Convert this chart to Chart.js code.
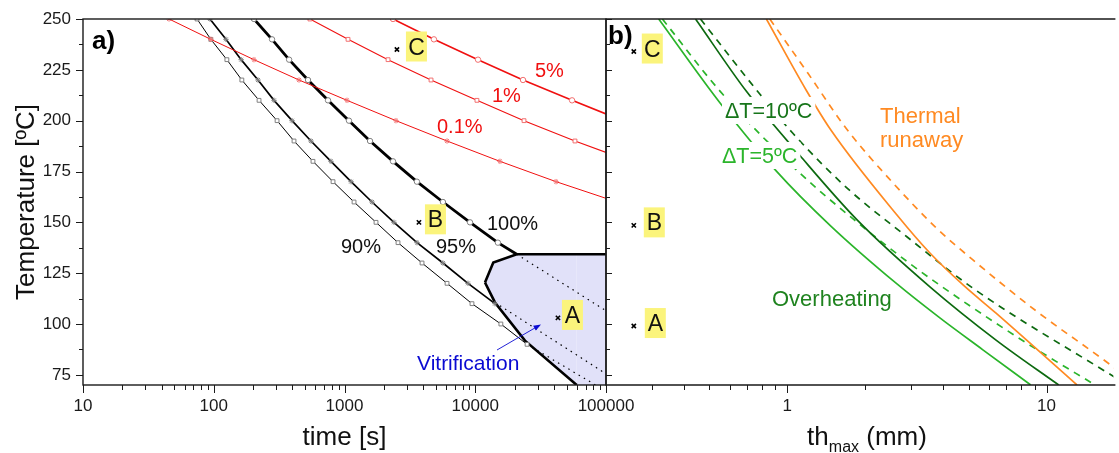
<!DOCTYPE html>
<html>
<head>
<meta charset="utf-8">
<title>Cure time and maximum thickness</title>
<script src="https://cdn.jsdelivr.net/npm/chart.js@4.4.1/dist/chart.umd.min.js"></script>
<style>
  html, body { margin: 0; padding: 0; background: #fff; overflow: hidden; }
  #chartA { position: absolute; left: 0; top: 0; }
  #chartB { position: absolute; left: 600px; top: 0; }
</style>
</head>
<body>
<canvas id="chartA" width="650" height="453"></canvas>
<canvas id="chartB" width="519" height="453"></canvas>
<script>
// ---------- panel a) : time [s] to reach a given conversion ----------
var temp90 = [250, 240, 230, 220, 210, 200, 190, 180, 170, 160, 150, 140, 130, 120, 110, 100, 90];
var time90 = [74.5, 95, 126, 164, 222, 305, 411, 574, 817, 1183, 1742, 2566, 3917, 6085, 9440, 15700, 24900];
var temp95 = [250, 240, 230, 220, 210, 200, 190, 180, 170, 160, 150, 140, 130, 120, 110];
var time95 = [93.5, 124, 162, 218, 289, 397, 554, 788, 1122, 1623, 2390, 3585, 5660, 8800, 14150];
var temp100 = [250, 240, 230, 220, 210, 200, 190, 180, 170, 160, 150, 140, 134.3];
var time100 = [203, 279, 377, 526, 748, 1082, 1568, 2350, 3580, 5660, 9120, 14900, 20750];

// degradation curves
var temp01 = [250, 240, 230, 220, 210, 200, 190, 180, 170, 161.8];
var time01 = [45.5, 95, 203, 449, 1045, 2476, 6085, 15450, 41500, 100000];
var temp1 = [250, 240, 230, 220, 210, 200, 190, 184.4];
var time1 = [544, 1064, 2153, 4590, 10300, 23600, 57900, 100000];
var temp5 = [250, 240, 230, 220, 210, 203.3];
var time5 = [2350, 4830, 10500, 23200, 55000, 100000];

// continuation of the curves inside the vitrified zone
var dot100Time = [20750, 100000], dot100Temp = [134.3, 106.5];
var dot95Time = [14150, 100000], dot95Temp = [110.6, 75.5];
var dot90Time = [24900, 83200], dot90Temp = [90, 70];

// vitrification region: upper and lower outline
var vitUpTime = [11870, 13740, 20750, 100000];
var vitUpTemp = [120.4, 130.2, 134.3, 134.3];
var vitLowTime = [11870, 14150, 24000, 59700, 100000];
var vitLowTemp = [120.4, 110.6, 91.8, 70, 70];

// cure conditions A, B, C
var sampleNames = ['A', 'B', 'C'];
var sampleTime = [42900, 3710, 2518];
var sampleTempA = [103, 150, 235];
var sampleThick = [0.256, 0.256, 0.256];
var sampleTempB = [99, 148.5, 234];

// ---------- panel b) : maximum thickness [mm] ----------
var thG5 = [0.3194, 0.547, 0.908, 1.469, 2.649, 3.877, 5.68, 8.687];
var tG5 = [250, 209.2, 175.2, 148.3, 119.7, 103.0, 87.3, 70];
var thG5d = [0.330, 0.5515, 1.099, 1.863, 2.978, 4.764, 9.08, 15.39];
var tG5d = [250, 214.4, 175.1, 150.0, 129.6, 111.2, 87.8, 70];
var thG10 = [0.443, 0.697, 1.115, 1.863, 3.549, 6.385, 11.14];
var tG10 = [250, 214.3, 183.1, 151.1, 118.3, 92.1, 70];
var thG10d = [0.4627, 0.761, 1.051, 1.706, 2.892, 5.201, 17.3, 20];
var tG10d = [250, 215.1, 193.8, 166.7, 142.9, 117.6, 75.8, 70.9];
var thRun = [0.831, 1.182, 1.473, 2.649, 3.549, 4.764, 6.385, 13.1];
var tRun = [250, 215.1, 195.4, 153.6, 134.9, 119.2, 105.3, 70];
var thRund = [0.8565, 1.2, 1.706, 2.535, 3.71, 5.201, 9.078, 17.3, 20];
var tRund = [250, 223.4, 195.4, 169.9, 147.9, 131.5, 106.6, 80.7, 74.5];

// axis ticks
var yMajor = [75, 100, 125, 150, 175, 200, 225, 250];
var yMinor = [87.5, 112.5, 137.5, 162.5, 187.5, 212.5, 237.5];
var timeMajor = [10, 100, 1000, 10000, 100000];
var thickMajor = [1, 10];

var fontFamily = '"Liberation Sans", Arial, sans-serif';
var axisColor = '#1a1a1a';
Chart.defaults.font.family = fontFamily;
Chart.defaults.color = axisColor;

function pts(xs, ys) {
  return xs.map(function (x, i) { return { x: x, y: ys[i] }; });
}

function minorLog(lo, hi) {
  var out = [];
  for (var d = lo; d < hi; d *= 10) {
    for (var m = 2; m <= 9; m++) out.push(d * m);
  }
  return out;
}

// markers only on the 10 ºC steps
function stepRadius(c) {
  return c.raw && c.raw.y % 10 === 0 ? 2.7 : 0;
}

function curve(xs, ys, color, width, marker, markColor) {
  return {
    data: pts(xs, ys),
    borderColor: color,
    borderWidth: width,
    pointStyle: marker,
    pointRadius: stepRadius,
    pointBorderColor: markColor,
    pointBackgroundColor: '#fff',
    pointBorderWidth: 1,
    tension: 0,
    fill: false
  };
}

function dotted(xs, ys) {
  return { data: pts(xs, ys), borderColor: '#000', borderWidth: 1.2, borderDash: [1.5, 4.5], pointRadius: 0, fill: false };
}

function smooth(xs, ys, color, dash) {
  return {
    data: pts(xs, ys), borderColor: color, borderWidth: 1.7, borderDash: dash || [],
    pointRadius: 0, cubicInterpolationMode: 'monotone', fill: false
  };
}

function crosses(xs, ys) {
  return {
    data: pts(xs, ys), showLine: false, pointStyle: 'crossRot', pointRadius: 3,
    pointBorderColor: '#000', pointBorderWidth: 1.6
  };
}

function drawTicks(ctx, scale, values, edge, len, vertical, lo, hi) {
  values.forEach(function (v) {
    var p = Math.round(scale.getPixelForValue(v)) + 0.5;
    if (p < lo - 1 || p > hi + 1) return;
    if (vertical) { ctx.moveTo(edge, p); ctx.lineTo(edge + len, p); }
    else { ctx.moveTo(p, edge); ctx.lineTo(p, edge + len); }
  });
}

function text(ctx, t, shift) {
  ctx.font = (t.bold ? 'bold ' : '') + t.size + 'px ' + fontFamily;
  ctx.textAlign = 'left';
  ctx.textBaseline = 'alphabetic';
  var x = t.x - shift;
  if (t.bg) {
    var w = ctx.measureText(t.text).width;
    ctx.fillStyle = t.bg;
    ctx.fillRect(x - 3, t.y - t.size * 0.98, w + 6, t.size * 1.26);
  }
  ctx.fillStyle = t.color;
  ctx.fillText(t.text, x, t.y);
}

function sampleBoxes(ctx, sx, sy, xs, ys, offsets) {
  ctx.font = '23px ' + fontFamily;
  ctx.textAlign = 'center';
  ctx.textBaseline = 'alphabetic';
  sampleNames.forEach(function (n, i) {
    var px = sx.getPixelForValue(xs[i]) + offsets[i];
    var py = sy.getPixelForValue(ys[i]);
    ctx.fillStyle = '#fbf47c';
    ctx.fillRect(px, py - 18, 21, 30);
    ctx.fillStyle = '#111';
    ctx.fillText(n, px + 10.5, py + 5);
  });
}

var textsA = [
  { text: 'a)', x: 92, y: 49, size: 26, bold: true, color: '#000' },
  { text: '5%', x: 535, y: 77, size: 20, color: '#f01010' },
  { text: '1%', x: 492, y: 102, size: 20, color: '#f01010' },
  { text: '0.1%', x: 437, y: 133, size: 20, color: '#f01010' },
  { text: '100%', x: 487, y: 230, size: 20, color: '#111' },
  { text: '95%', x: 436, y: 253, size: 20, color: '#111' },
  { text: '90%', x: 341, y: 253, size: 20, color: '#111' },
  { text: 'Vitrification', x: 417, y: 370, size: 21, color: '#0a0ad2' }
];

var textsB = [
  { text: 'b)', x: 608, y: 44, size: 26, bold: true, color: '#000' },
  { text: '\u0394T=10\u00baC', x: 725, y: 118, size: 21.5, color: '#17751a', bg: '#fff' },
  { text: '\u0394T=5\u00baC', x: 722, y: 163, size: 21.5, color: '#2bb52b', bg: '#fff' },
  { text: 'Thermal', x: 880, y: 123, size: 22, color: '#ff8a22' },
  { text: 'runaway', x: 880, y: 147, size: 22, color: '#ff8a22' },
  { text: 'Overheating', x: 772, y: 306, size: 22, color: '#1f831f' }
];

var decoA = {
  id: 'decoA',
  afterDatasetsDraw: function (chart) {
    var ctx = chart.ctx, a = chart.chartArea, sx = chart.scales.x, sy = chart.scales.y;
    ctx.save();
    ctx.strokeStyle = axisColor;
    ctx.lineWidth = 1.4;
    ctx.strokeRect(a.left, a.top, a.right - a.left, a.bottom - a.top);
    ctx.lineWidth = 1;
    ctx.beginPath();
    drawTicks(ctx, sy, yMajor, a.left, -7, true, a.top, a.bottom);
    drawTicks(ctx, sy, yMinor, a.left, -4, true, a.top, a.bottom);
    drawTicks(ctx, sx, timeMajor, a.bottom, 8, false, a.left, a.right);
    drawTicks(ctx, sx, minorLog(10, 100000), a.bottom, 5, false, a.left, a.right);
    ctx.stroke();

    sampleBoxes(ctx, sx, sy, sampleTime, sampleTempA, [4, 6, 9]);
    textsA.forEach(function (t) { text(ctx, t, 0); });

    // arrow pointing into the vitrified zone
    ctx.strokeStyle = '#0a0ad2';
    ctx.fillStyle = '#0a0ad2';
    ctx.lineWidth = 0.9;
    ctx.beginPath();
    ctx.moveTo(497, 350);
    ctx.lineTo(536, 327.3);
    ctx.stroke();
    var ang = Math.atan2(325 - 350, 540 - 497);
    ctx.beginPath();
    ctx.moveTo(541, 324.4);
    ctx.lineTo(541 - 8 * Math.cos(ang - 0.35), 324.4 - 8 * Math.sin(ang - 0.35));
    ctx.lineTo(541 - 8 * Math.cos(ang + 0.35), 324.4 - 8 * Math.sin(ang + 0.35));
    ctx.closePath();
    ctx.fill();

    // axis titles
    ctx.fillStyle = '#111';
    ctx.font = '26px ' + fontFamily;
    ctx.textAlign = 'center';
    ctx.textBaseline = 'alphabetic';
    ctx.fillText('time [s]', (a.left + a.right) / 2, 445);
    ctx.translate(34, (a.top + a.bottom) / 2);
    ctx.rotate(-Math.PI / 2);
    ctx.fillText('Temperature [\u00baC]', 0, 0);
    ctx.restore();
  }
};

var decoB = {
  id: 'decoB',
  afterDatasetsDraw: function (chart) {
    var ctx = chart.ctx, a = chart.chartArea, sx = chart.scales.x, sy = chart.scales.y;
    ctx.save();
    ctx.strokeStyle = axisColor;
    ctx.lineWidth = 1.4;
    ctx.beginPath();
    ctx.moveTo(a.right + 2, a.top);
    ctx.lineTo(a.left, a.top);
    ctx.lineTo(a.left, a.bottom);
    ctx.lineTo(a.right + 2, a.bottom);
    ctx.stroke();
    ctx.lineWidth = 1;
    ctx.beginPath();
    drawTicks(ctx, sy, yMajor, a.left, 6, true, a.top, a.bottom);
    drawTicks(ctx, sy, yMinor, a.left, 4, true, a.top, a.bottom);
    drawTicks(ctx, sx, thickMajor, a.bottom, 8, false, a.left, a.right);
    drawTicks(ctx, sx, minorLog(0.1, 100), a.bottom, 5, false, a.left, a.right);
    ctx.stroke();

    sampleBoxes(ctx, sx, sy, sampleThick, sampleTempB, [11, 10, 8]);
    textsB.forEach(function (t) { text(ctx, t, 600); });

    // x title with subscript: th_max (mm)
    ctx.fillStyle = '#111';
    ctx.textAlign = 'left';
    ctx.textBaseline = 'alphabetic';
    ctx.font = '26px ' + fontFamily;
    var w1 = ctx.measureText('th').width, w3 = ctx.measureText(' (mm)').width;
    ctx.font = '16px ' + fontFamily;
    var w2 = ctx.measureText('max').width;
    var x0 = 867 - 600 - (w1 + w2 + w3) / 2;
    ctx.font = '26px ' + fontFamily;
    ctx.fillText('th', x0, 445);
    ctx.fillText(' (mm)', x0 + w1 + w2, 445);
    ctx.font = '16px ' + fontFamily;
    ctx.fillText('max', x0 + w1, 452);
    ctx.restore();
  }
};

var tickFont = { family: fontFamily, size: 17 };

var chartA = new Chart(document.getElementById('chartA'), {
  type: 'line',
  data: {
    datasets: [
      crosses(sampleTime, sampleTempA),
      curve(time5, temp5, '#f01010', 1.6, 'circle', '#f27070'),
      curve(time1, temp1, '#f01010', 1.1, 'rect', '#f27070'),
      curve(time01, temp01, '#f01010', 1.0, 'star', '#f27070'),
      curve(time100, temp100, '#000', 2.8, 'circle', '#808080'),
      curve(time95, temp95, '#000', 1.7, 'star', '#808080'),
      curve(time90, temp90, '#000', 1.0, 'rect', '#808080'),
      dotted(dot100Time, dot100Temp),
      dotted(dot95Time, dot95Temp),
      dotted(dot90Time, dot90Temp),
      {
        data: pts(vitUpTime, vitUpTemp),
        borderColor: '#000',
        borderWidth: 2.6,
        backgroundColor: '#e1e1f9',
        fill: '+1',
        pointRadius: 0,
        tension: 0
      },
      {
        data: pts(vitLowTime, vitLowTemp),
        borderColor: '#000',
        borderWidth: 2.6,
        fill: false,
        pointRadius: 0,
        tension: 0,
        segment: {
          borderColor: function (c) { return c.p0DataIndex === 3 ? 'rgba(0,0,0,0)' : undefined; }
        }
      }
    ]
  },
  options: {
    responsive: false,
    animation: false,
    events: [],
    layout: { padding: { left: 0, top: 19, right: 44, bottom: 0 } },
    plugins: {
      legend: { display: false },
      tooltip: { enabled: false },
      filler: { drawTime: 'beforeDatasetsDraw' }
    },
    scales: {
      x: {
        type: 'logarithmic', min: 10, max: 100000,
        grid: { display: false, drawTicks: false }, border: { display: false },
        afterBuildTicks: function (s) { s.ticks = timeMajor.map(function (v) { return { value: v }; }); },
        afterFit: function (s) { s.height = 68; s.paddingLeft = 0; s.paddingRight = 0; },
        ticks: { font: tickFont, color: '#1a1a1a', padding: 11, maxRotation: 0, autoSkip: false,
                 callback: function (v) { return String(v); } }
      },
      y: {
        type: 'linear', min: 70, max: 250,
        grid: { display: false, drawTicks: false }, border: { display: false },
        afterBuildTicks: function (s) { s.ticks = yMajor.map(function (v) { return { value: v }; }); },
        afterFit: function (s) { s.width = 83; s.paddingTop = 0; s.paddingBottom = 0; },
        ticks: { font: tickFont, color: '#1a1a1a', padding: 12,
                 callback: function (v) { return String(v); } }
      }
    }
  },
  plugins: [decoA]
});

var chartB = new Chart(document.getElementById('chartB'), {
  type: 'line',
  data: {
    datasets: [
      crosses(sampleThick, sampleTempB),
      smooth(thRun, tRun, '#ff8a22'),
      smooth(thRund, tRund, '#ff8a22', [7, 6]),
      smooth(thG10, tG10, '#0d6a10'),
      smooth(thG10d, tG10d, '#0d6a10', [7, 6]),
      smooth(thG5, tG5, '#2bb52b'),
      smooth(thG5d, tG5d, '#2bb52b', [7, 6])
    ]
  },
  options: {
    responsive: false,
    animation: false,
    events: [],
    layout: { padding: { left: 6, top: 19, right: 0, bottom: 0 } },
    plugins: { legend: { display: false }, tooltip: { enabled: false } },
    scales: {
      x: {
        type: 'logarithmic', min: 0.2, max: 18.1,
        grid: { display: false, drawTicks: false }, border: { display: false },
        afterBuildTicks: function (s) { s.ticks = thickMajor.map(function (v) { return { value: v }; }); },
        afterFit: function (s) { s.height = 68; s.paddingLeft = 0; s.paddingRight = 0; },
        ticks: { font: tickFont, color: '#1a1a1a', padding: 11, maxRotation: 0, autoSkip: false,
                 callback: function (v) { return String(v); } }
      },
      y: { type: 'linear', min: 70, max: 250, display: false }
    }
  },
  plugins: [decoB]
});
</script>
</body>
</html>
